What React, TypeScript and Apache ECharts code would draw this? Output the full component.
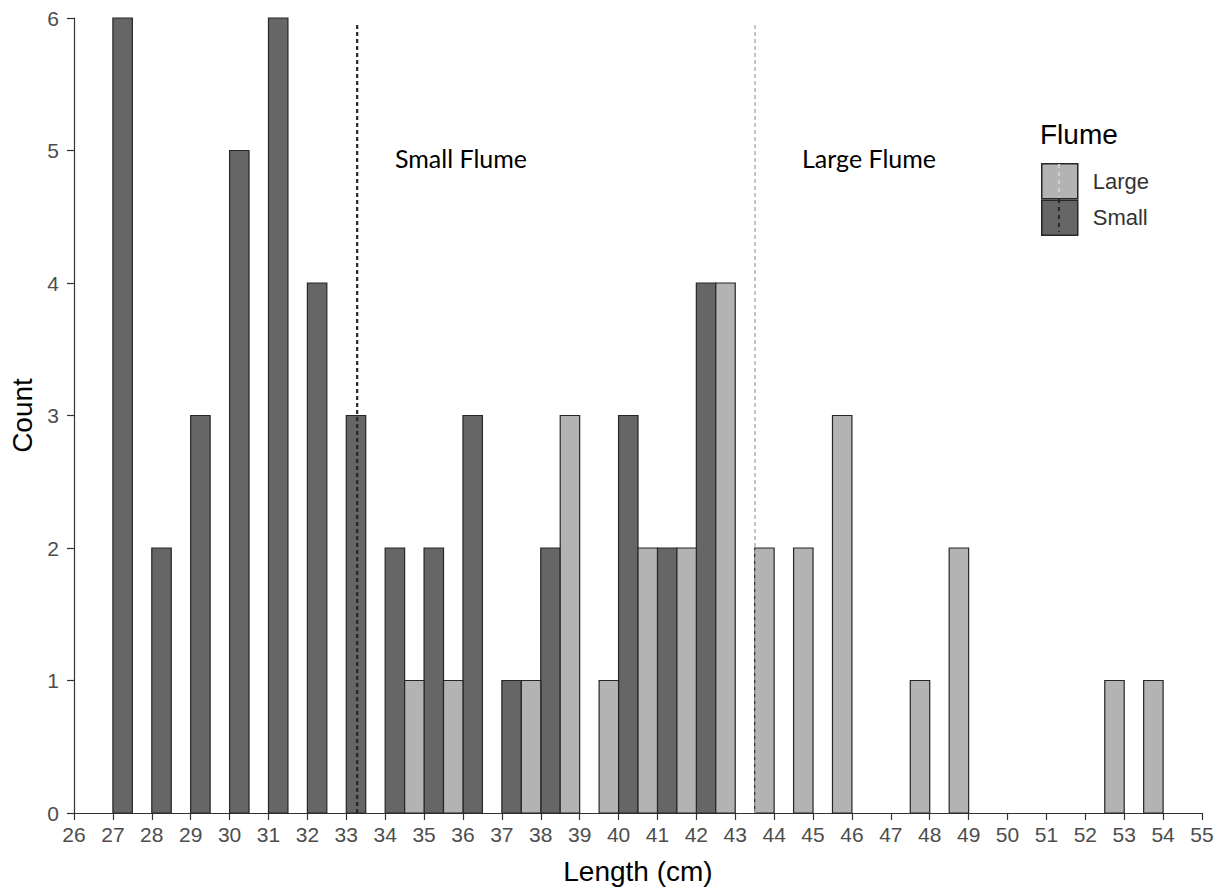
import React, { useEffect, useRef } from "react";
import * as echarts from "echarts";

// Histogram bins (lower edge, width 1 cm), dodged by flume
const binStarts = [27, 28, 29, 30, 31, 32, 33, 34, 35, 36, 37, 38, 39, 40, 41, 42, 43, 44, 45, 46, 47, 48, 49, 50, 51, 52, 53];
const smallCounts = [6, 2, 3, 5, 6, 4, 3, 2, 2, 3, 1, 2, 0, 3, 2, 4, 0, 0, 0, 0, 0, 0, 0, 0, 0, 0, 0];
const largeCounts = [0, 0, 0, 0, 0, 0, 0, 1, 1, 0, 1, 3, 1, 2, 2, 4, 2, 2, 3, 0, 1, 2, 0, 0, 0, 1, 1];

// Mean lengths (dashed reference lines)
const smallMean = 33.28;
const largeMean = 43.51;

const flumeNames = ["Large", "Small"];
const xTitle = "Length (cm)";
const yTitle = "Count";

const SMALL_FILL = "#666666";
const LARGE_FILL = "#b3b3b3";
const OUTLINE = "#262626";

function barRender(fill: string) {
  return (params: any, api: any) => {
    const x0 = api.value(0);
    const x1 = api.value(1);
    const v = api.value(2);
    const p0 = api.coord([x0, v]);
    const p1 = api.coord([x1, 0]);
    return {
      type: "rect",
      shape: { x: p0[0], y: p0[1], width: p1[0] - p0[0], height: p1[1] - p0[1] },
      style: { fill, stroke: OUTLINE, lineWidth: 1.2 },
    };
  };
}

export default function App() {
  const ref = useRef<HTMLDivElement>(null);
  useEffect(() => {
    if (!ref.current) return;
    const chart = echarts.init(ref.current, undefined, { renderer: "svg" });
    const smallData = binStarts
      .map((b, i) => [b, b + 0.5, smallCounts[i]])
      .filter((d) => d[2] > 0);
    const largeData = binStarts
      .map((b, i) => [b + 0.5, b + 1, largeCounts[i]])
      .filter((d) => d[2] > 0);

    const axisFont = "Liberation Sans, Arial, sans-serif";
    const option: any = {
      animation: false,
      backgroundColor: "#ffffff",
      grid: { left: 74, right: 27, top: 18, bottom: 80, containLabel: false },
      xAxis: {
        type: "value",
        min: 26,
        max: 55,
        interval: 1,
        name: xTitle,
        nameLocation: "middle",
        nameGap: 44,
        nameTextStyle: { fontSize: 28, color: "#000000", fontFamily: axisFont },
        axisLine: { show: true, onZero: false, lineStyle: { color: "#333333", width: 1.2 } },
        axisTick: { show: true, length: 7, lineStyle: { color: "#333333", width: 1.2 } },
        axisLabel: { fontSize: 21, color: "#4d4d4d", margin: 11, fontFamily: axisFont, showMinLabel: true, showMaxLabel: true },
        splitLine: { show: false },
      },
      yAxis: {
        type: "value",
        min: 0,
        max: 6,
        interval: 1,
        name: yTitle,
        nameLocation: "middle",
        nameGap: 33,
        nameRotate: 90,
        nameTextStyle: { fontSize: 28, color: "#000000", fontFamily: axisFont },
        axisLine: { show: true, onZero: false, lineStyle: { color: "#333333", width: 1.2 } },
        axisTick: { show: true, length: 7, lineStyle: { color: "#333333", width: 1.2 } },
        axisLabel: { fontSize: 21, color: "#4d4d4d", margin: 15, fontFamily: axisFont },
        splitLine: { show: false },
      },
      legend: {
        orient: "vertical",
        left: 1041,
        top: 163,
        padding: 0,
        itemWidth: 36,
        itemHeight: 35,
        itemGap: 0,
        icon: "rect",
        selectedMode: false,
        data: [
          { name: flumeNames[0], itemStyle: { color: LARGE_FILL, borderColor: OUTLINE, borderWidth: 1.5 } },
          { name: flumeNames[1], itemStyle: { color: SMALL_FILL, borderColor: OUTLINE, borderWidth: 1.5 } },
        ],
        textStyle: { fontSize: 22, color: "#333333", fontFamily: axisFont, padding: [0, 0, 0, 10] },
      },
      graphic: [
        {
          type: "text",
          left: 1040,
          top: 120,
          style: { text: "Flume", fontSize: 28, fill: "#000000", fontFamily: axisFont },
        },
        {
          type: "line",
          shape: { x1: 1059, y1: 164, x2: 1059, y2: 197 },
          style: { stroke: "#d0d0d0", lineWidth: 2, lineDash: [4, 4] },
          z: 100,
        },
        {
          type: "line",
          shape: { x1: 1059, y1: 199, x2: 1059, y2: 232 },
          style: { stroke: "#262626", lineWidth: 2, lineDash: [4, 4] },
          z: 100,
        },
        {
          type: "text",
          left: 395,
          top: 145,
          style: { text: "Small Flume", fontSize: 25, fill: "#000000", fontFamily: "Lato, sans-serif" },
        },
        {
          type: "text",
          left: 802,
          top: 145,
          style: { text: "Large Flume", fontSize: 25, fill: "#000000", fontFamily: "Lato, sans-serif" },
        },
      ],
      series: [
        {
          name: flumeNames[1],
          type: "custom",
          renderItem: barRender(SMALL_FILL),
          encode: { x: [0, 1], y: 2 },
          itemStyle: { color: SMALL_FILL, borderColor: OUTLINE, borderWidth: 1 },
          data: smallData,
        },
        {
          name: flumeNames[0],
          type: "custom",
          renderItem: barRender(LARGE_FILL),
          encode: { x: [0, 1], y: 2 },
          itemStyle: { color: LARGE_FILL, borderColor: OUTLINE, borderWidth: 1 },
          data: largeData,
        },
        {
          name: "Small mean",
          type: "line",
          symbol: "none",
          silent: true,
          lineStyle: { color: "#262626", width: 2.2, type: [4, 3] },
          data: [[smallMean, 0], [smallMean, 5.97]],
          z: 5,
        },
        {
          name: "Large mean",
          type: "line",
          symbol: "none",
          silent: true,
          lineStyle: { color: "#b0b0b0", width: 1.5, type: [4, 3] },
          data: [[largeMean, 0], [largeMean, 5.97]],
          z: 5,
        },
      ],
    };
    chart.setOption(option);
    return () => chart.dispose();
  }, []);
  return (
    <div
      ref={ref}
      style={{ position: "fixed", left: 0, top: 0, width: 1229, height: 893, background: "#fff" }}
    />
  );
}
